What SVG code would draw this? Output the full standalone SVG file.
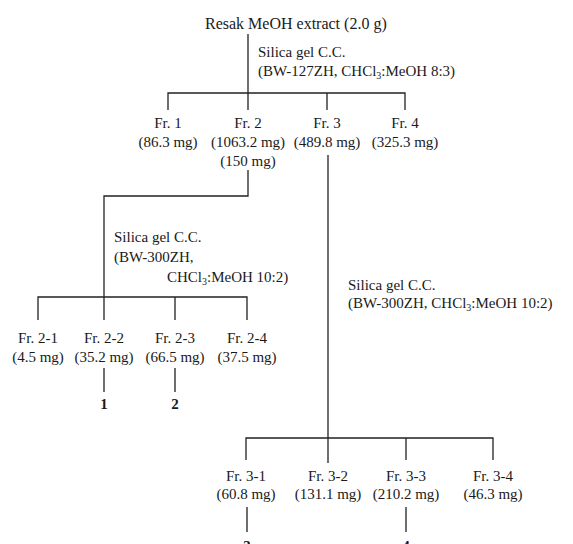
<svg xmlns="http://www.w3.org/2000/svg" width="573" height="544" viewBox="0 0 573 544">
<style>
text{font-family:"Liberation Serif","Times New Roman",serif;font-size:15px;fill:#1a1a1a}
.c{text-anchor:middle}
.b{font-weight:bold}
.sub{font-size:10px}
#connectors path{fill:none;stroke:#222;stroke-width:1.3}
</style>
<rect width="573" height="544" fill="#fff"/>
<g id="connectors">
<path d="M248 34V110M168 110V93H405V110M327 93V110"/>
<path d="M248 170V196H104V320M38 320V297H247V320M175 297V320"/>
<path d="M104 368V392M175 368V392"/>
<path d="M328 155V463M246 460V438H493V460M406 438V460"/>
<path d="M247 507V532M406 507V532"/>
</g>
<g id="root"><text x="205" y="29" style="font-size:16px">Resak MeOH extract (2.0 g)</text></g>
<g id="step1"><text x="258" y="57">Silica gel C.C.</text><text x="258" y="76">(BW-127ZH, CHCl<tspan class="sub" dy="3">3</tspan><tspan dy="-3">:MeOH 8:3)</tspan></text></g>
<g id="fr1"><text class="c" x="168" y="128">Fr. 1</text><text class="c" x="168" y="147">(86.3 mg)</text></g>
<g id="fr2"><text class="c" x="248" y="128">Fr. 2</text><text class="c" x="248" y="147">(1063.2 mg)</text><text class="c" x="248" y="166">(150 mg)</text></g>
<g id="fr3"><text class="c" x="327" y="128">Fr. 3</text><text class="c" x="327" y="147">(489.8 mg)</text></g>
<g id="fr4"><text class="c" x="405" y="128">Fr. 4</text><text class="c" x="405" y="147">(325.3 mg)</text></g>
<g id="step2"><text x="114" y="242">Silica gel C.C.</text><text x="114" y="262">(BW-300ZH,</text><text x="167" y="282">CHCl<tspan class="sub" dy="3">3</tspan><tspan dy="-3">:MeOH 10:2)</tspan></text></g>
<g id="fr2-1"><text class="c" x="38" y="343">Fr. 2-1</text><text class="c" x="38" y="362">(4.5 mg)</text></g>
<g id="fr2-2"><text class="c" x="104" y="343">Fr. 2-2</text><text class="c" x="104" y="362">(35.2 mg)</text></g>
<g id="fr2-3"><text class="c" x="175" y="343">Fr. 2-3</text><text class="c" x="175" y="362">(66.5 mg)</text></g>
<g id="fr2-4"><text class="c" x="247" y="343">Fr. 2-4</text><text class="c" x="247" y="362">(37.5 mg)</text></g>
<g id="c1"><text class="c b" x="104" y="409">1</text></g>
<g id="c2"><text class="c b" x="175" y="409">2</text></g>
<g id="step3"><text x="348" y="290">Silica gel C.C.</text><text x="348" y="308">(BW-300ZH, CHCl<tspan class="sub" dy="3">3</tspan><tspan dy="-3">:MeOH 10:2)</tspan></text></g>
<g id="fr3-1"><text class="c" x="246" y="481">Fr. 3-1</text><text class="c" x="246" y="499">(60.8 mg)</text></g>
<g id="fr3-2"><text class="c" x="328" y="481">Fr. 3-2</text><text class="c" x="328" y="499">(131.1 mg)</text></g>
<g id="fr3-3"><text class="c" x="406" y="481">Fr. 3-3</text><text class="c" x="406" y="499">(210.2 mg)</text></g>
<g id="fr3-4"><text class="c" x="493" y="481">Fr. 3-4</text><text class="c" x="493" y="499">(46.3 mg)</text></g>
<g id="c3"><text class="c b" x="247" y="551">3</text></g>
<g id="c4"><text class="c b" x="406" y="551">4</text></g>
</svg>
